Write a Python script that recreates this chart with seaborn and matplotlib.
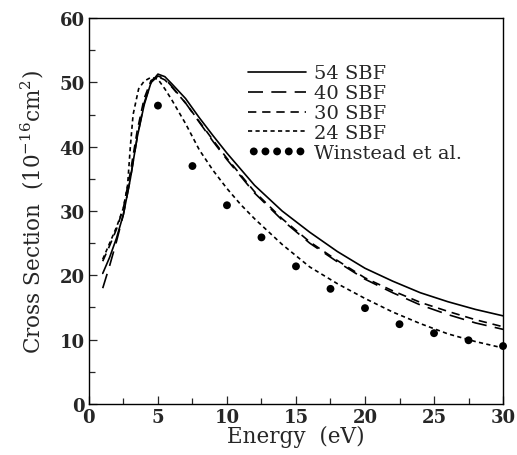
import numpy as np
import pandas as pd
import matplotlib
matplotlib.use("Agg")
import matplotlib.pyplot as plt
import seaborn as sns

# Curvas (energia em eV, secao de choque em 1e-16 cm^2)
e_54 = [1, 1.5, 2, 2.5, 3, 3.5, 4, 4.5, 5, 5.5, 6, 7, 8, 9, 10, 12, 14, 16, 18, 20, 22, 24, 26, 28, 30]
cs_54 = [20.3, 22.8, 25.8, 29.5, 35, 41.5, 46.5, 50, 51.3, 50.9, 49.8, 47.5, 44.5, 41.7, 39, 34, 30, 26.7, 23.7, 21.1, 19.1, 17.3, 15.9, 14.7, 13.7]

e_40 = [1, 1.5, 2, 2.5, 3, 3.5, 4, 4.5, 5, 5.5, 6, 7, 8, 9, 10, 12, 14, 16, 18, 20, 22, 24, 26, 28, 30]
cs_40 = [18, 21.5, 25.3, 29.5, 35, 41.5, 46.8, 50, 51, 50.6, 49.4, 46.8, 43.8, 40.8, 38, 32.8, 28.6, 25, 22.1, 19.4, 17.3, 15.4, 13.9, 12.6, 11.6]

e_30 = [1, 1.5, 2, 2.5, 3, 3.5, 4, 4.5, 5, 5.5, 6, 7, 8, 9, 10, 12, 14, 16, 18, 20, 22, 24, 26, 28, 30]
cs_30 = [22.2, 24.6, 27.2, 30.5, 36, 42.5, 47.5, 50.3, 50.9, 50.4, 49.3, 46.8, 43.9, 41, 38.2, 33, 28.8, 25.2, 22.3, 19.6, 17.6, 15.8, 14.4, 13.1, 12.0]

e_24 = [1, 1.5, 2, 2.5, 2.8, 3.0, 3.2, 3.6, 4, 4.5, 5, 5.5, 6, 7, 8, 9, 10, 11, 12, 13, 14, 16, 18, 20, 22, 24, 26, 28, 30]
cs_24 = [22.5, 25, 27.5, 30.5, 34, 40, 45, 49, 50.2, 50.8, 50.5, 49, 47.3, 43.6, 39.5, 36.3, 33.5, 31, 28.8, 26.8, 24.8, 21.3, 18.7, 16.4, 14.3, 12.5, 10.9, 9.7, 8.7]

e_winstead = [5, 7.5, 10, 12.5, 15, 17.5, 20, 22.5, 25, 27.5, 30]
cs_winstead = [46.4, 37, 30.9, 25.9, 21.4, 17.9, 14.9, 12.4, 11.0, 9.9, 9.0]

sns.set_style("ticks")
plt.rcParams["font.family"] = ["DejaVu Serif"]
plt.rcParams["mathtext.fontset"] = "dejavuserif"

fig = plt.figure(figsize=(5.17, 4.56), dpi=100)
ax = fig.add_axes([0.172, 0.112, 0.801, 0.846])

curvas = [
    (e_54, cs_54, "54 SBF", "-"),
    (e_40, cs_40, "40 SBF", (0, (9, 5))),
    (e_30, cs_30, "30 SBF", (0, (5, 3.5))),
    (e_24, cs_24, "24 SBF", (0, (2.5, 2))),
]
for e, cs, nome, estilo in curvas:
    df = pd.DataFrame({"e": e, "cs": cs})
    sns.lineplot(data=df, x="e", y="cs", ax=ax, color="black", lw=1.2,
                 linestyle=estilo, label=nome, sort=False)

df_w = pd.DataFrame({"e": e_winstead, "cs": cs_winstead})
sns.scatterplot(data=df_w, x="e", y="cs", ax=ax, color="black", s=32,
                edgecolor="none", label="Winstead et al.", clip_on=False, zorder=5)

ax.set_xlim(0, 30)
ax.set_ylim(0, 60)
ax.set_xticks(np.arange(0, 31, 5))
ax.set_yticks(np.arange(0, 61, 10))
ax.set_xticks(np.arange(0, 31, 2.5), minor=True)
ax.set_yticks(np.arange(0, 61, 5), minor=True)
ax.tick_params(which="both", direction="in", top=False, right=False, width=0.9)
ax.tick_params(which="major", length=6, labelsize=13, pad=3)
ax.tick_params(which="minor", length=4)
for lab in ax.get_xticklabels() + ax.get_yticklabels():
    lab.set_fontweight("bold")
for s in ax.spines.values():
    s.set_linewidth(1.0)
    s.set_color("black")

ax.set_xlabel("Energy  (eV)", fontsize=15.5, labelpad=-1)
ax.set_ylabel("Cross Section  (10$^{-16}$cm$^2$)", fontsize=15.5, labelpad=10)

ax.legend(loc="upper left", bbox_to_anchor=(0.384, 0.88), frameon=False, fontsize=14,
          handlelength=3.0, handletextpad=0.4, labelspacing=0.1,
          scatterpoints=5, scatteryoffsets=[0.5], borderaxespad=0, borderpad=0)

fig.savefig("out.png", dpi=100)
